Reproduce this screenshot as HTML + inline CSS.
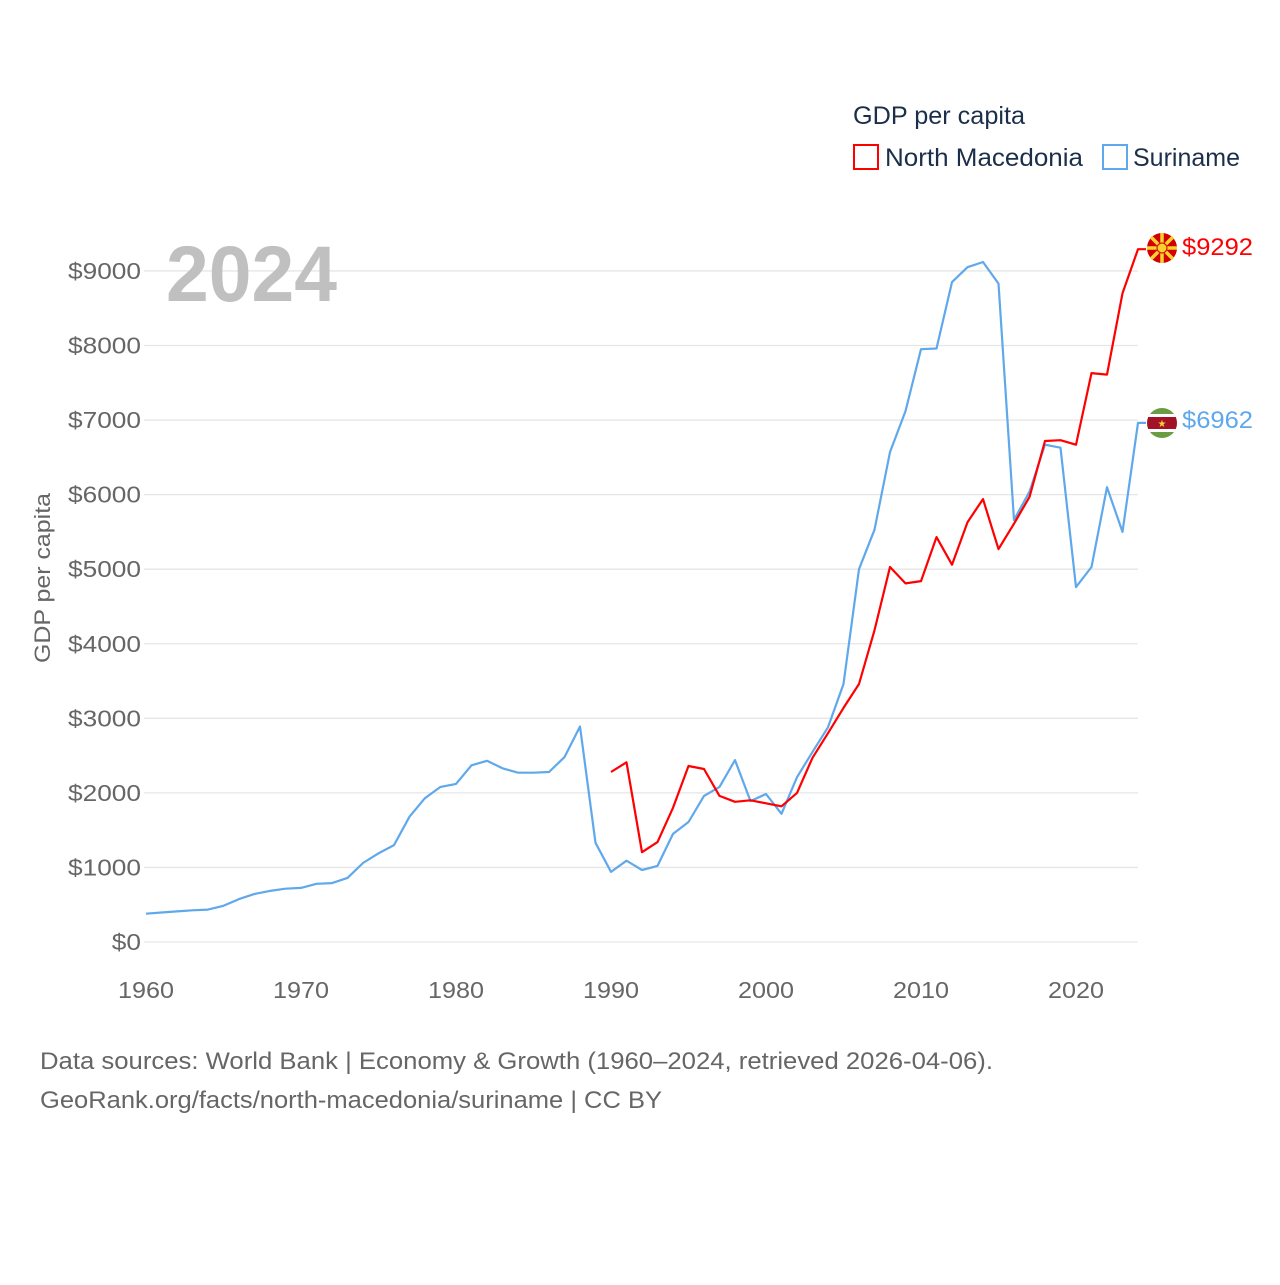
<!DOCTYPE html>
<html><head><meta charset="utf-8"><style>
html,body{margin:0;padding:0;background:#fff;}
body{width:1280px;height:1280px;overflow:hidden;font-family:"Liberation Sans",sans-serif;}
svg text{font-family:"Liberation Sans",sans-serif;}
</style></head><body>
<svg id="chart" width="1280" height="1280" viewBox="0 0 1280 1280" xmlns="http://www.w3.org/2000/svg">
<g id="grid"></g>
<g id="yticks"></g>
<g id="xticks"></g>
<text x="166" y="301" font-size="79" font-weight="bold" fill="#c0c0c0" textLength="171" lengthAdjust="spacingAndGlyphs">2024</text>
<text transform="translate(50,578) rotate(-90)" text-anchor="middle" font-size="22" fill="#666" textLength="170" lengthAdjust="spacingAndGlyphs">GDP per capita</text>
<g id="series"></g>
<g>
<text x="853" y="124" font-size="25" fill="#1b2f4b" textLength="172" lengthAdjust="spacingAndGlyphs">GDP per capita</text>
<rect x="854" y="145" width="24" height="24" fill="none" stroke="#ff0000" stroke-width="2"/>
<text x="885" y="166" font-size="25" fill="#1b2f4b" textLength="198" lengthAdjust="spacingAndGlyphs">North Macedonia</text>
<rect x="1103" y="145" width="24" height="24" fill="none" stroke="#5fa8ec" stroke-width="2"/>
<text x="1133" y="166" font-size="25" fill="#1b2f4b" textLength="107" lengthAdjust="spacingAndGlyphs">Suriname</text>
</g>
<g>
<circle cx="1162" cy="248" r="15" fill="#d20000"/>
<g stroke="#f8d12f" stroke-width="3.5">
<line x1="1147" y1="248" x2="1177" y2="248"/><line x1="1162" y1="233" x2="1162" y2="263"/>
<line x1="1151" y1="237" x2="1173" y2="259"/><line x1="1173" y1="237" x2="1151" y2="259"/>
</g>
<circle cx="1162" cy="248" r="5" fill="#f8d12f" stroke="#d20000" stroke-width="1"/>
</g>
<g>
<clipPath id="sc"><circle cx="1162" cy="423" r="15"/></clipPath>
<g clip-path="url(#sc)">
<rect x="1147" y="408" width="30" height="30" fill="#6a9d43"/>
<rect x="1147" y="414" width="30" height="18" fill="#fff"/>
<rect x="1147" y="417" width="30" height="12" fill="#a31127"/>
</g>
<text x="1162" y="427" font-size="10" text-anchor="middle" fill="#f8d12f">★</text>
</g>
<text x="1182" y="255" font-size="24" fill="#ff0000" textLength="71" lengthAdjust="spacingAndGlyphs">$9292</text>
<text x="1182" y="428" font-size="24" fill="#5fa8ec" textLength="71" lengthAdjust="spacingAndGlyphs">$6962</text>
<text x="40" y="1069" font-size="24" fill="#666" textLength="953" lengthAdjust="spacingAndGlyphs">Data sources: World Bank | Economy &amp; Growth (1960–2024, retrieved 2026-04-06).</text>
<text x="40" y="1108" font-size="24" fill="#666" textLength="622" lengthAdjust="spacingAndGlyphs">GeoRank.org/facts/north-macedonia/suriname | CC BY</text>
</svg>
<script>
const yTickValues = [0,1000,2000,3000,4000,5000,6000,7000,8000,9000];
const xTickYears = [1960,1970,1980,1990,2000,2010,2020];
const surinameStart = 1960;
const surinameValues = [380,395,410,425,435,485,575,645,685,715,725,780,790,860,1060,1190,1300,1680,1930,2080,2120,2370,2430,2330,2270,2270,2280,2480,2890,1330,940,1090,965,1020,1450,1610,1960,2080,2440,1890,1985,1720,2210,2550,2880,3460,5000,5530,6570,7120,7950,7960,8850,9050,9120,8830,5660,6040,6670,6630,4760,5030,6100,5500,6962];
const macedoniaStart = 1990;
const macedoniaValues = [2280,2410,1205,1340,1800,2360,2320,1960,1880,1900,1860,1820,2000,2470,2800,3140,3460,4180,5030,4810,4840,5430,5060,5630,5940,5270,5610,5970,6720,6730,6670,7630,7610,8700,9292];

const NS='http://www.w3.org/2000/svg';
function xs(year){return 146+(year-1960)*15.5;}
function ys(v){return 942-v*0.07456;}
const grid=document.getElementById('grid'), yt=document.getElementById('yticks'), xt=document.getElementById('xticks'), ser=document.getElementById('series');
yTickValues.forEach(v=>{
  const l=document.createElementNS(NS,'line');
  
  
  l.setAttribute('x1',144);l.setAttribute('x2',1138);
  l.setAttribute('y1',ys(v));l.setAttribute('y2',ys(v));
  l.setAttribute('stroke','#e6e6e6');l.setAttribute('stroke-width','1.3');
  grid.appendChild(l);
  const t=document.createElementNS(NS,'text');
  
  
  const s='$'+v;
  t.setAttribute('x',141-s.length*14.6);t.setAttribute('y',ys(v)+8);
  t.setAttribute('font-size','23');t.setAttribute('fill','#666');
  t.setAttribute('textLength',s.length*14.6);t.setAttribute('lengthAdjust','spacingAndGlyphs');
  t.textContent=s;
  yt.appendChild(t);
});
xTickYears.forEach(y=>{
  const t=document.createElementNS(NS,'text');
  
  
  t.setAttribute('x',xs(y)-28);t.setAttribute('y',998);
  t.setAttribute('font-size','23');t.setAttribute('fill','#666');
  t.setAttribute('textLength','56');t.setAttribute('lengthAdjust','spacingAndGlyphs');
  t.textContent=y;
  xt.appendChild(t);
});
function drawLine(start,vals,color,name){
  let d='';
  vals.forEach((v,i)=>{d+=(i?'L':'M')+xs(start+i).toFixed(1)+','+ys(v).toFixed(1);});
  const last=vals[vals.length-1];
  d+='L'+(xs(start+vals.length-1)+8).toFixed(1)+','+ys(last).toFixed(1);
  const p=document.createElementNS(NS,'path');
  
  
  p.setAttribute('d',d);p.setAttribute('fill','none');p.setAttribute('stroke',color);
  p.setAttribute('stroke-width','2.2');p.setAttribute('stroke-linejoin','round');
  ser.appendChild(p);
}
drawLine(surinameStart,surinameValues,'#5fa8ec','line-suriname');
drawLine(macedoniaStart,macedoniaValues,'#ff0000','line-north-macedonia');
</script>
</body></html>
